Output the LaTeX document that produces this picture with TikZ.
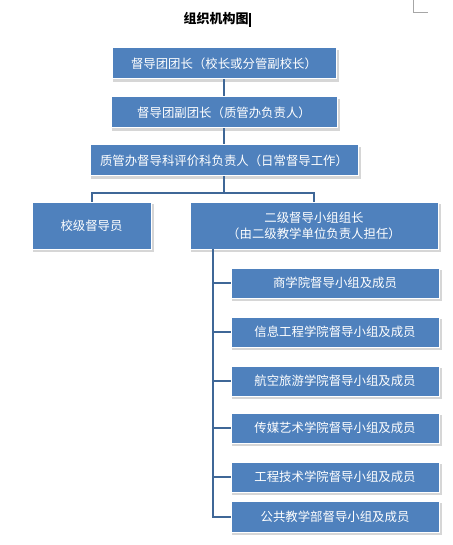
\documentclass[tikz,border=0pt]{standalone}
\usepackage{fontspec}
\newfontfamily\cjk{Noto Sans CJK SC}
\definecolor{boxblue}{HTML}{4F81BD}
\definecolor{lineblue}{HTML}{3F6797}
\begin{document}
\begin{tikzpicture}[x=1pt,y=-1pt,
  orgbox/.style={fill=boxblue, draw=white, line width=1pt, text=white, font=\cjk\fontsize{12.4}{16}\selectfont,
    align=center, inner sep=0pt, minimum height=31pt},
  shade/.style={fill=black!16},
  conn/.style={draw=lineblue, line width=2pt}]
\useasboundingbox (0,0) rectangle (452,545);
\fill[white] (0,0) rectangle (452,545);
% page corner mark
\draw[gray!70, line width=0.6pt] (413,0) -- (413,12) -- (428,12);
% title
\node[font=\cjk\bfseries\fontsize{13}{15}\selectfont] (title) at (216,19) {组织机构图};
\draw[line width=1.3pt] (250,13) -- (250,27);
% shadows
\foreach \x/\y/\w/\h in {112/48/224/31, 111/97/226/31, 90/145/268/31, 32/202/119/47, 190/202/248/47,
  231/268/208/30, 231/317/208/30, 231/366/208/30, 231/413/208/30, 231/462/208/30, 231/501/208/31}
  \fill[shade] (\x+1,\y+2) rectangle ++(\w+1.5,\h+1);
% boxes
\node[orgbox, minimum width=224pt] (b1) at (224,63.5) {督导团团长（校长或分管副校长）};
\node[orgbox, minimum width=226pt] (b2) at (224,112.5) {督导团副团长（质管办负责人）};
\node[orgbox, minimum width=268pt] (b3) at (224,160.5) {质管办督导科评价科负责人（日常督导工作）};
\node[orgbox, minimum width=119pt, minimum height=47pt] (b4) at (91.5,225.5) {校级督导员};
\node[orgbox, minimum width=248pt, minimum height=47pt] (b5) at (314,225.5) {二级督导小组组长\\（由二级教学单位负责人担任）};
\node[orgbox, minimum width=208pt, minimum height=30pt] (c1) at (335,283) {商学院督导小组及成员};
\node[orgbox, minimum width=208pt, minimum height=30pt] (c2) at (335,332) {信息工程学院督导小组及成员};
\node[orgbox, minimum width=208pt, minimum height=30pt] (c3) at (335,381) {航空旅游学院督导小组及成员};
\node[orgbox, minimum width=208pt, minimum height=30pt] (c4) at (335,428) {传媒艺术学院督导小组及成员};
\node[orgbox, minimum width=208pt, minimum height=30pt] (c5) at (335,477) {工程技术学院督导小组及成员};
\node[orgbox, minimum width=208pt, minimum height=31pt] (c6) at (335,516.5) {公共教学部督导小组及成员};
% connectors
\draw[conn] (b1.south) -- (b2.north);
\draw[conn] (b2.south) -- (b3.north);
\coordinate (j) at (224,193);
\draw[conn] (b3.south) -- (j);
\draw[conn] (b4.north) |- (j) -| (b5.north);
\coordinate (t) at (213,249);
\draw[conn] (t) |- (c6.west);
\foreach \c in {c1,c2,c3,c4,c5}
  \draw[conn] (t) |- (\c.west);
\end{tikzpicture}
\end{document}
